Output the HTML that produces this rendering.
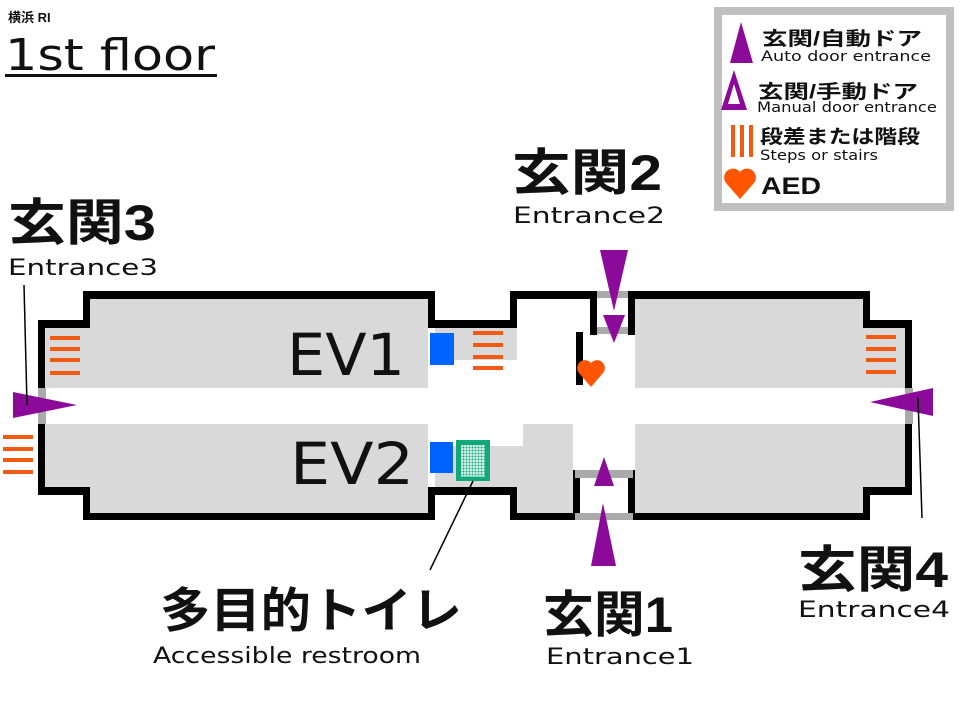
<!DOCTYPE html>
<html><head><meta charset="utf-8"><style>
html,body{margin:0;padding:0;background:#fff;width:960px;height:720px;overflow:hidden}
svg{display:block}
text{font-family:"DejaVu Sans","Liberation Sans","Noto Sans CJK JP",sans-serif;fill:#111}
.j{font-family:"Liberation Sans","Noto Sans CJK JP",sans-serif;font-weight:bold}
</style></head><body>
<svg width="960" height="720" viewBox="0 0 960 720" xmlns="http://www.w3.org/2000/svg">
<g fill="#d9d9d9">
<rect x="90" y="299" width="338" height="89"/>
<rect x="45" y="320" width="383" height="68"/>
<rect x="90" y="424" width="338" height="89"/>
<rect x="45" y="424" width="383" height="64"/>
<rect x="435" y="328" width="82" height="32"/>
<rect x="435" y="446" width="88" height="41"/>
<rect x="523" y="424" width="50" height="63"/>
<rect x="517" y="446" width="56" height="67"/>
<rect x="635" y="299" width="228" height="89"/>
<rect x="635" y="328" width="270" height="60"/>
<rect x="635" y="424" width="228" height="89"/>
<rect x="635" y="424" width="270" height="64"/>
</g>
<g fill="#000">
<rect x="83" y="291" width="352" height="8"/>
<rect x="38" y="320" width="52" height="8"/>
<rect x="83" y="291" width="7" height="37"/>
<rect x="38" y="320" width="7" height="175"/>
<rect x="38" y="487" width="52" height="8"/>
<rect x="83" y="487" width="7" height="33"/>
<rect x="83" y="513" width="352" height="7"/>
<rect x="428" y="291" width="7" height="37"/>
<rect x="428" y="320" width="89" height="8"/>
<rect x="510" y="291" width="7" height="37"/>
<rect x="510" y="291" width="87" height="8"/>
<rect x="590" y="291" width="7" height="44"/>
<rect x="628" y="291" width="7" height="44"/>
<rect x="628" y="291" width="242" height="8"/>
<rect x="863" y="291" width="7" height="37"/>
<rect x="863" y="320" width="49" height="8"/>
<rect x="905" y="320" width="7" height="175"/>
<rect x="863" y="487" width="49" height="8"/>
<rect x="863" y="487" width="7" height="33"/>
<rect x="628" y="513" width="242" height="7"/>
<rect x="428" y="487" width="7" height="33"/>
<rect x="428" y="487" width="89" height="8"/>
<rect x="510" y="487" width="7" height="33"/>
<rect x="510" y="513" width="70" height="7"/>
<rect x="573" y="470" width="7" height="50"/>
<rect x="628" y="470" width="7" height="50"/>
<rect x="576" y="332" width="7" height="53"/>
</g>
<g fill="#aaa">
<rect x="38" y="388" width="8" height="36"/>
<rect x="905" y="388" width="8" height="36"/>
<rect x="597" y="291" width="31" height="7"/>
<rect x="597" y="327" width="31" height="7"/>
<rect x="575" y="470" width="58" height="8"/>
<rect x="575" y="513" width="58" height="7"/>
</g>
<rect x="597" y="298" width="31" height="29" fill="#fff"/>
<rect x="580" y="478" width="48" height="35" fill="#fff"/>
<g stroke="#f25a14" stroke-width="4">
<path d="M50 338H80M50 349H80M50 360H80M50 373H80"/>
<path d="M3 437H33M3 449H33M3 460H33M3 472H33"/>
<path d="M473 333H503M473 345H503M473 357H503M473 368H503"/>
<path d="M866 337H896M866 349H896M866 360H896M866 372H896"/>
</g>
<rect x="430" y="333" width="24" height="32" fill="#0062ff"/>
<rect x="430" y="442" width="23" height="31" fill="#0062ff"/>
<rect x="456" y="440" width="34" height="41" fill="#13a878"/>
<g stroke="#fff" stroke-width="1">
<path d="M462 445V476M465 445V476M468 445V476M471 445V476M474 445V476M477 445V476M480 445V476M483 445V476"/>
<path d="M461 446H485M461 449H485M461 452H485M461 455H485M461 458H485M461 461H485M461 464H485M461 467H485M461 470H485M461 473H485M461 476H485"/>
</g>
<path d="M591 387 L579 373 A7.5 7.5 0 0 1 591 363 A7.5 7.5 0 0 1 603 373 Z" fill="#ff5500"/>
<g fill="#8b0a9a">
<polygon points="13,392 13,418 77,405"/>
<polygon points="933,388 933,416 870,402"/>
<polygon points="600,250 628,250 614,311"/>
<polygon points="603,315 625,315 614,343"/>
<polygon points="591,566 616,566 603,503"/>
<polygon points="594,486 614,486 604,457"/>
</g>
<g stroke="#000" stroke-width="1.5">
<line x1="24" y1="285" x2="27" y2="405"/>
<line x1="918" y1="398" x2="922" y2="518"/>
<line x1="473" y1="481" x2="430" y2="570"/>
</g>
<text x="8" y="22" class="j" font-size="13">横浜 RI</text>
<text x="5" y="70" font-size="44" textLength="210" lengthAdjust="spacingAndGlyphs">1st floor</text>
<rect x="5" y="74" width="212" height="3" fill="#111"/>
<text x="287" y="375" font-size="58" textLength="118" lengthAdjust="spacingAndGlyphs">EV1</text>
<text x="290" y="484" font-size="58" textLength="124" lengthAdjust="spacingAndGlyphs">EV2</text>
<text x="8" y="240" class="j" font-size="50" textLength="148" lengthAdjust="spacingAndGlyphs">玄関3</text>
<text x="8" y="275" font-size="22" textLength="150" lengthAdjust="spacingAndGlyphs">Entrance3</text>
<text x="512" y="190" class="j" font-size="50" textLength="150" lengthAdjust="spacingAndGlyphs">玄関2</text>
<text x="513" y="223" font-size="22" textLength="152" lengthAdjust="spacingAndGlyphs">Entrance2</text>
<text x="798" y="587" class="j" font-size="50" textLength="150" lengthAdjust="spacingAndGlyphs">玄関4</text>
<text x="798" y="617" font-size="22" textLength="152" lengthAdjust="spacingAndGlyphs">Entrance4</text>
<text x="543" y="632" class="j" font-size="50" textLength="130" lengthAdjust="spacingAndGlyphs">玄関1</text>
<text x="546" y="664" font-size="22" textLength="148" lengthAdjust="spacingAndGlyphs">Entrance1</text>
<text x="160" y="627" class="j" font-size="48" textLength="302" lengthAdjust="spacingAndGlyphs">多目的トイレ</text>
<text x="153" y="663" font-size="22" textLength="268" lengthAdjust="spacingAndGlyphs">Accessible restroom</text>
<rect x="718" y="11" width="232" height="196" fill="#fff" stroke="#c0c0c0" stroke-width="8"/>
<polygon points="741,22 753,63 730,63" fill="#8b0a9a"/>
<text x="762" y="45" class="j" font-size="19" textLength="160" lengthAdjust="spacingAndGlyphs">玄関/自動ドア</text>
<text x="761" y="61" font-size="14" textLength="170" lengthAdjust="spacingAndGlyphs">Auto door entrance</text>
<polygon points="734,70 747,110 721,110" fill="#8b0a9a"/>
<polygon points="734,84 740,104 728,104" fill="#fff"/>
<text x="758" y="98" class="j" font-size="19" textLength="160" lengthAdjust="spacingAndGlyphs">玄関/手動ドア</text>
<text x="757" y="112" font-size="14" textLength="180" lengthAdjust="spacingAndGlyphs">Manual door entrance</text>
<g stroke="#f25a14" stroke-width="4"><path d="M733 125V157M742 125V157M751 125V157"/></g>
<text x="760" y="143" class="j" font-size="19" textLength="160" lengthAdjust="spacingAndGlyphs">段差または階段</text>
<text x="760" y="160" font-size="14" textLength="118" lengthAdjust="spacingAndGlyphs">Steps or stairs</text>
<path d="M740 199 L726 183 A8 8 0 0 1 740 172 A8 8 0 0 1 754 183 Z" fill="#ff5500"/>
<text x="761" y="194" class="j" font-size="24" textLength="60" lengthAdjust="spacingAndGlyphs">AED</text>
</svg>
</body></html>
